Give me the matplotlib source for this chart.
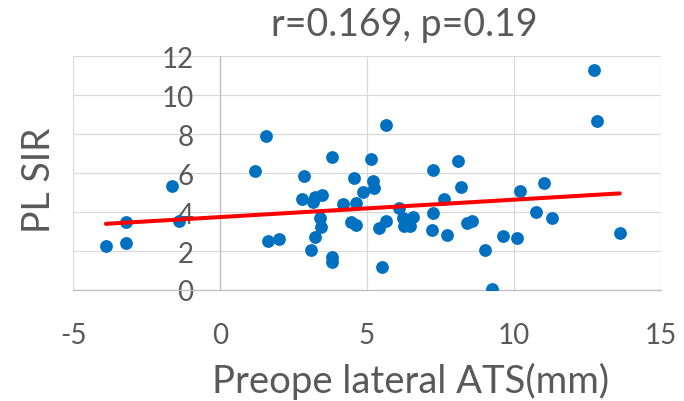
import numpy as np
import matplotlib
matplotlib.use('Agg')
import matplotlib.pyplot as plt

plt.rcParams['font.family'] = ['Lato', 'DejaVu Sans']
plt.rcParams['axes.unicode_minus'] = False

# data
ats_mm = [-3.88, -3.2, -3.2, -1.62, -1.39, 1.2, 1.55, 1.62, 2.0, 2.85,
          2.8, 3.15, 3.22, 3.46, 3.40, 3.44, 3.22, 3.11, 3.81, 3.81,
          3.82, 4.2, 4.45, 4.64, 4.63, 4.56, 4.87, 5.14, 5.22, 5.23,
          5.63, 5.5, 5.42, 5.65, 6.1, 6.22, 6.25, 6.45, 6.58, 7.22,
          7.23, 7.24, 7.62, 7.72, 8.11, 8.19, 8.39, 8.58, 9.01, 9.24,
          9.63, 10.1, 10.22, 10.74, 11.02, 11.28, 12.73, 12.81, 13.6]
pl_sir = [2.24, 3.51, 2.41, 5.36, 3.54, 6.09, 7.89, 2.52, 2.62, 5.84,
          4.68, 4.5, 4.78, 4.9, 3.7, 3.25, 2.7, 2.05, 1.72, 1.45,
          6.85, 4.42, 3.5, 3.32, 4.45, 5.74, 5.03, 6.73, 5.61, 5.22,
          8.48, 1.16, 3.2, 3.55, 4.22, 3.72, 3.27, 3.28, 3.77, 3.07,
          3.95, 6.15, 4.67, 2.84, 6.61, 5.29, 3.46, 3.53, 2.07, 0.04,
          2.76, 2.69, 5.07, 4.02, 5.48, 3.71, 11.28, 8.70, 2.91]
x_ticks = [-5, 0, 5, 10, 15]
y_ticks = [0, 2, 4, 6, 8, 10, 12]
title = 'r=0.169, p=0.19'
x_label = 'Preope lateral ATS(mm)'
y_label = 'PL SIR'

TEXT = '#595959'
GRID = '#D9D9D9'

W, H = 684, 402
fig = plt.figure(figsize=(W / 100, H / 100), dpi=100)
ax = fig.add_axes([73 / W, 1 - 291 / H, 588 / W, 233.7 / H])

x = np.array(ats_mm)
y = np.array(pl_sir)
ax.scatter(x, y, s=85, color='#0070C0', zorder=3, linewidths=0)

# linear trend line
k, b = np.polyfit(x, y, 1)
xl = np.array([x.min(), x.max()])
ax.plot(xl, k * xl + b, color='#FF0000', lw=2.9, zorder=4, solid_capstyle='round')

ax.set_xlim(-5, 15)
ax.set_ylim(0, 12)
ax.set_xticks(x_ticks)
ax.set_yticks(y_ticks)
ax.grid(True, color=GRID, lw=0.9, zorder=0)
ax.set_axisbelow(True)

for s in ['top', 'right']:
    ax.spines[s].set_visible(False)
ax.spines['left'].set_position(('data', 0))
ax.spines['left'].set_color('#BFBFBF')
ax.spines['bottom'].set_color('#BFBFBF')
ax.spines['left'].set_linewidth(0.9)
ax.spines['bottom'].set_linewidth(0.9)

ax.tick_params(axis='y', length=0, pad=19, labelsize=20, labelcolor=TEXT)
ax.tick_params(axis='x', length=0, pad=23, labelsize=20, labelcolor=TEXT)

fig.text(404 / W, 1 - 36 / H, title, ha='center', va='baseline',
         fontsize=27, color=TEXT)
fig.text(411 / W, 1 - 393 / H, x_label, ha='center', va='baseline',
         fontsize=27.5, color=TEXT)
fig.text(39.5 / W, 1 - 180 / H, y_label, ha='center', va='center',
         rotation=90, fontsize=27, color=TEXT)

fig.savefig('out.png', dpi=100)
